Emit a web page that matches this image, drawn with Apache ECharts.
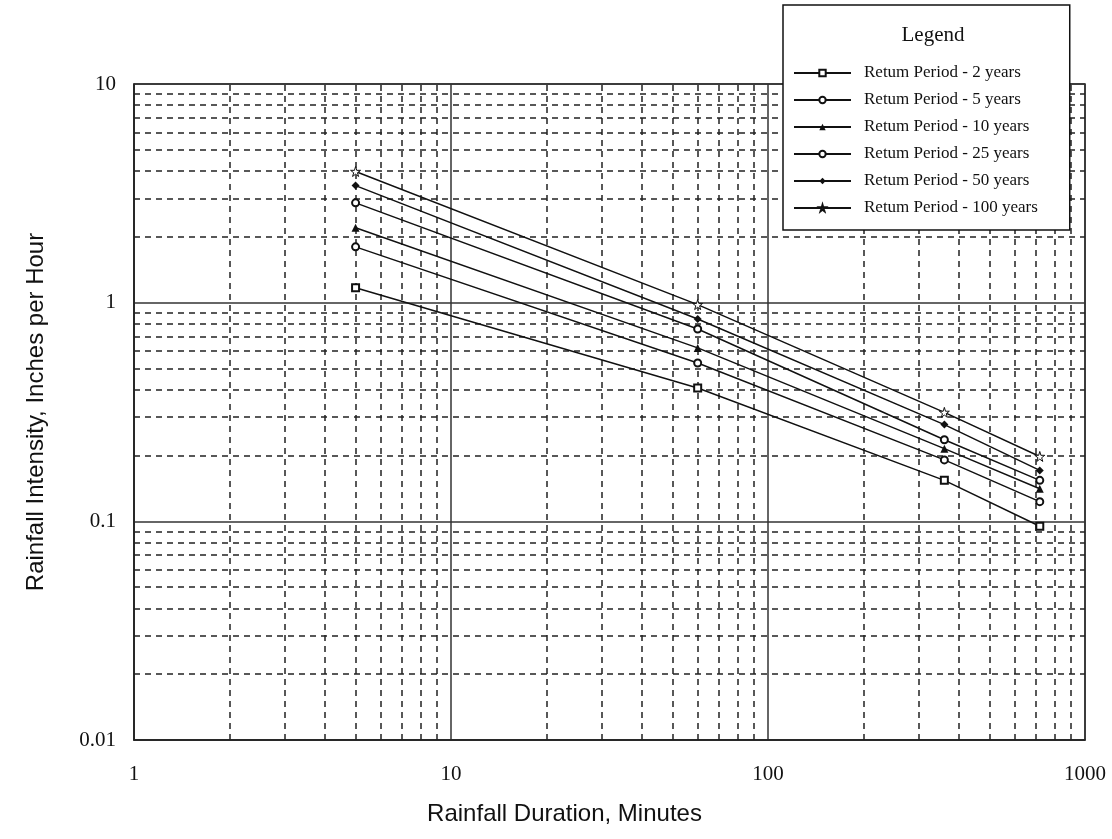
<!DOCTYPE html>
<html>
<head>
<meta charset="utf-8">
<script src="https://cdn.jsdelivr.net/npm/echarts@6/dist/echarts.min.js"></script>
<style>
html,body{margin:0;padding:0;background:#fff;}
#chart{width:1112px;height:839px;}
</style>
</head>
<body>
<div id="chart"></div>
<script>
// Durations (minutes)
var durations = [5, 60, 360, 720];
// Rainfall intensity (inches per hour) per return period
var rp2   = [1.17, 0.407, 0.154, 0.095];
var rp5   = [1.80, 0.530, 0.191, 0.123];
var rp10  = [2.20, 0.621, 0.215, 0.141];
var rp25  = [2.86, 0.758, 0.236, 0.154];
var rp50  = [3.43, 0.842, 0.277, 0.171];
var rp100 = [3.98, 0.980, 0.315, 0.198];
var seriesNames = [
  'Retum Period - 2 years',
  'Retum Period - 5 years',
  'Retum Period - 10 years',
  'Retum Period - 25 years',
  'Retum Period - 50 years',
  'Retum Period - 100 years'
];
var xDecades = [1, 10, 100];
var yDecades = [0.01, 0.1, 1];
var minorSteps = [2, 3, 4, 5, 6, 7, 8, 9];

var starPath = 'path://M50,0 L61,35 L98,35 L68,57 L79,91 L50,70 L21,91 L32,57 L2,35 L39,35 Z';
var symbols = ['emptyRect', 'emptyCircle', 'triangle', 'emptyCircle', 'diamond', starPath];
var sizes = [7, 7, 8, 7, 8, 10];
var allValues = [rp2, rp5, rp10, rp25, rp50, rp100];

var minorLines = [];
xDecades.forEach(function (d) {
  minorSteps.forEach(function (s) { minorLines.push({ xAxis: +(d * s).toPrecision(3) }); });
});
yDecades.forEach(function (d) {
  minorSteps.forEach(function (s) { minorLines.push({ yAxis: +(d * s).toPrecision(3) }); });
});

var series = allValues.map(function (vals, i) {
  return {
    name: seriesNames[i],
    type: 'line',
    data: durations.map(function (x, j) { return [x, vals[j]]; }),
    symbol: symbols[i],
    symbolSize: sizes[i],
    showAllSymbol: true,
    lineStyle: { color: '#111', width: 1.5 },
    itemStyle: i === 5 ? { color: '#fff', borderColor: '#111', borderWidth: 1 } : { color: '#111' },
    emphasis: { disabled: true },
    z: 5
  };
});
series.unshift({
  name: 'minor-grid',
  type: 'line',
  data: [],
  silent: true,
  z: 1,
  markLine: {
    silent: true,
    symbol: 'none',
    label: { show: false },
    lineStyle: { color: '#222', width: 1.5, type: [6, 5] },
    emphasis: { disabled: true },
    animation: false,
    data: minorLines
  }
});

var chart = echarts.init(document.getElementById('chart'), null, { renderer: 'canvas' });
chart.setOption({
  animation: false,
  backgroundColor: '#fff',
  grid: {
    left: 134, right: 27, top: 84, bottom: 99,
    show: true, borderColor: '#222', borderWidth: 1.5, backgroundColor: 'transparent'
  },
  title: {
    text: 'Legend',
    left: 928, top: 20, textAlign: 'center',
    z: 20,
    textStyle: { fontFamily: 'Liberation Serif', fontSize: 21, fontWeight: 'normal', color: '#111' }
  },
  legend: {
    data: seriesNames,
    orient: 'vertical',
    left: 783, top: 5,
    padding: [58, 32, 12, 10],
    itemGap: 7,
    itemWidth: 57,
    itemHeight: 8,
    backgroundColor: '#fff',
    borderColor: '#111',
    borderWidth: 1.5,
    z: 10,
    selectedMode: false,
    textStyle: { fontFamily: 'Liberation Serif', fontSize: 17, lineHeight: 20, color: '#111', padding: [0, 0, 0, 8] }
  },
  xAxis: {
    type: 'log',
    logBase: 10,
    min: 1, max: 1000,
    name: 'Rainfall Duration, Minutes',
    nameLocation: 'middle',
    nameGap: 62,
    nameTextStyle: { fontFamily: 'Liberation Sans', fontSize: 24, color: '#111', padding: [0, 90, 0, 0] },
    axisLine: { show: true, lineStyle: { color: '#222', width: 1.5 } },
    axisTick: { show: false },
    axisLabel: {
      fontFamily: 'Liberation Serif', fontSize: 21, color: '#111', margin: 24,
      formatter: function (v) { return String(Math.round(v)); }
    },
    splitLine: { show: true, lineStyle: { color: '#333', width: 1.5, type: 'solid' } }
  },
  yAxis: {
    type: 'log',
    logBase: 10,
    min: 0.01, max: 10,
    name: 'Rainfall Intensity, Inches per Hour',
    nameLocation: 'middle',
    nameGap: 86,
    nameTextStyle: { fontFamily: 'Liberation Sans', fontSize: 24, color: '#111' },
    axisLine: { show: true, lineStyle: { color: '#222', width: 1.5 } },
    axisTick: { show: false },
    axisLabel: { fontFamily: 'Liberation Serif', fontSize: 21, color: '#111', margin: 18 },
    splitLine: { show: true, lineStyle: { color: '#333', width: 1.5, type: 'solid' } }
  },
  series: series
});
</script>
</body>
</html>
